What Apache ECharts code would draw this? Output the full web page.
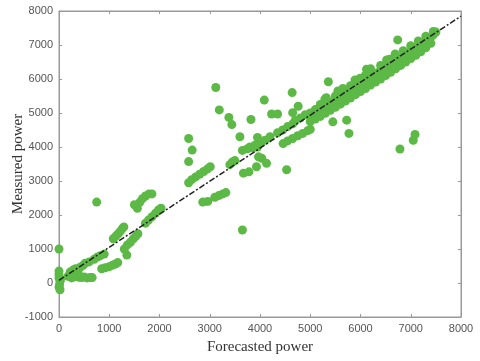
<!DOCTYPE html>
<html>
<head>
<meta charset="utf-8">
<script src="https://cdn.jsdelivr.net/npm/echarts@6/dist/echarts.min.js"></script>
<style>
  html, body { margin: 0; padding: 0; background: #fff; }
  #chart { width: 480px; height: 361px; }
</style>
</head>
<body>
<div id="chart"></div>
<script>
// forecasted vs measured power
var forecasted = [
  0, 0, 0, 0, 20, 10, 0, 20, 30,
  180, 220, 280, 330, 380, 250, 300, 400, 450, 500, 560, 620, 660, 350,
  420, 480, 520, 600, 700, 760, 820, 900,
  750,
  850, 920, 1000, 1060, 1120, 1170,
  1080, 1130, 1180, 1220, 1260, 1290,
  1300, 1360, 1420, 1480, 1530, 1570, 1350,
  1500, 1560, 1610, 1660, 1720, 1790, 1850,
  1720, 1780, 1850, 1920, 1980, 2030,
  2580, 2650, 2580,
  2580, 2640, 2720, 2800, 2880, 2950, 3010,
  2860, 2960,
  3100, 3180, 3260, 3320,
  3650,
  3120, 3190, 3380, 3440, 3820, 3600, 3950,
  3400, 3450, 3500, 3650, 3750, 3850, 3950,
  3670, 3780, 3970, 3930, 4035, 4130, 4530,
  4085, 4230, 4350, 4640, 4650, 4760, 5360,
  5450, 5725, 5770, 6785, 7050, 7085, 6740,
  5290, 5320, 5550, 5650, 5890, 5990, 6120, 6200, 6520, 6580, 6690,
  4460, 4550, 4650, 4750, 4850, 4950, 5000,
  4350, 4450, 4550, 4650,
  4700, 4800, 4900, 5000, 5100, 5200,
  3800, 3900, 4000, 4100, 4200,
  5050, 5100, 5150, 5200, 5250, 5300, 5350, 5400, 5450, 5500,
  5550, 5600, 5650, 5700, 5750, 5800, 5850, 5900, 5950, 6000,
  6050, 6100, 6150, 6200, 6250, 6300, 6350, 6400, 6450, 6500,
  6550, 6600, 6650, 6700, 6750, 6800, 6850, 6900, 6950, 7000,
  7050, 7100, 7150, 7200, 7250, 7300, 7350, 7400, 7450, 7500,
  5000, 5100, 5200, 5300, 5400, 5500, 5600, 5700, 5800, 5900,
  6000, 6100, 6200, 6300, 6400, 6500, 6600, 6700, 6800, 6900,
  7000, 7100, 7200, 7300, 7400,
  5200, 5500, 5800, 6100, 6400, 6700, 7000, 7300, 7450, 6550, 6850, 7150
];
var measured = [
  1000, 350, 250, 150, 50, -50, -120, -200, 100,
  200, 320, 380, 420, 300, 150, 180, 170, 160, 180, 150, 160, 160, 250,
  460, 520, 580, 620, 700, 760, 800, 850,
  2380,
  420, 450, 480, 520, 560, 600,
  1300, 1380, 1450, 1520, 1600, 1650,
  1000, 1120, 1200, 1300, 1380, 1450, 820,
  2300, 2200, 2380, 2480, 2560, 2620, 2620,
  1760, 1850, 1950, 2050, 2150, 2200,
  4250, 3910, 3570,
  2950, 3040, 3120, 3200, 3280, 3350, 3420,
  2380, 2400,
  2520, 2570, 2620, 2660,
  1560,
  5750, 5090, 4870, 4660, 4810, 4300, 4280,
  3480, 3560, 3600, 3900, 3950, 3970, 4000,
  3230, 3270, 3710, 3420, 3670, 3520, 3330,
  5380, 4970, 4970, 5600, 5010, 5200, 5920,
  4740, 4790, 4400, 3940, 4200, 4370, 7150,
  5410, 5450, 5650, 5720, 5970, 6020, 6290, 6300, 6560, 6580, 6735,
  4100, 4180, 4250, 4330, 4400, 4480, 4520,
  4420, 4500, 4600, 4680,
  4780, 4850, 4950, 5000, 5100, 5200,
  4000, 4050, 4100, 4200, 4300,
  4950, 4980, 5050, 5080, 5150, 5180, 5230, 5280, 5320, 5380,
  5420, 5470, 5520, 5560, 5620, 5660, 5710, 5760, 5800, 5850,
  5900, 5950, 6000, 6040, 6100, 6140, 6190, 6240, 6280, 6330,
  6380, 6420, 6480, 6520, 6570, 6620, 6660, 6720, 6760, 6820,
  6860, 6910, 6960, 7010, 7060, 7120, 7170, 7230, 7300, 7380,
  4750, 4820, 4900, 4990, 5080, 5170, 5260, 5350, 5440, 5540,
  5630, 5720, 5820, 5910, 6000, 6100, 6200, 6300, 6400, 6500,
  6600, 6700, 6800, 6920, 7050,
  5250, 5500, 5800, 6120, 6400, 6680, 6980, 7260, 7400, 6520, 6830, 7120
];
// dash-dot reference line end points
var fitX = [0, 8000];
var fitY = [80, 7850];

var points = forecasted.map(function (x, i) { return [x, measured[i]]; });
var fitLine = fitX.map(function (x, i) { return [x, fitY[i]]; });

var plain = function (v) { return String(v); };
var labelStyle = { color: '#555', fontSize: 11, fontFamily: 'Liberation Sans, Arial, sans-serif', formatter: plain };
var nameStyle = { color: '#333', fontSize: 15, fontFamily: 'Liberation Serif, Times New Roman, serif' };
var axisLine = { show: true, onZero: false, lineStyle: { color: '#999', width: 1 } };
var tick = { show: true, inside: true, length: 3, lineStyle: { color: '#999' } };

var chart = echarts.init(document.getElementById('chart'));
chart.setOption({
  animation: false,
  grid: {
    left: 59, right: 19, top: 11, bottom: 44, containLabel: false, outerBoundsMode: 'none',
    show: true, borderColor: '#999', borderWidth: 1, backgroundColor: 'transparent'
  },
  xAxis: [
    {
      type: 'value', min: 0, max: 8000, interval: 1000,
      name: 'Forecasted power', nameLocation: 'middle', nameGap: 23, nameMoveOverlap: false,
      nameTextStyle: nameStyle,
      axisLine: axisLine, axisTick: tick,
      axisLabel: Object.assign({ margin: 6 }, labelStyle),
      splitLine: { show: false }
    },
    {
      type: 'value', min: 0, max: 8000, interval: 1000, position: 'top',
      axisLine: axisLine, axisTick: tick,
      axisLabel: { show: false },
      splitLine: { show: false }
    }
  ],
  yAxis: [
    {
      type: 'value', min: -1000, max: 8000, interval: 1000,
      name: 'Measured power', nameLocation: 'middle', nameGap: 33, nameMoveOverlap: false,
      nameTextStyle: nameStyle,
      axisLine: axisLine, axisTick: tick,
      axisLabel: Object.assign({ margin: 6 }, labelStyle),
      splitLine: { show: false }
    },
    {
      type: 'value', min: -1000, max: 8000, interval: 1000, position: 'right',
      axisLine: axisLine, axisTick: tick,
      axisLabel: { show: false },
      splitLine: { show: false }
    }
  ],
  series: [
    {
      type: 'scatter',
      data: points,
      symbolSize: 9,
      itemStyle: { color: '#5cb946', opacity: 1 }
    },
    {
      type: 'line',
      data: fitLine,
      symbol: 'none',
      z: 5,
      lineStyle: { color: '#222', width: 1.5, type: [6, 2, 2, 2] }
    }
  ]
});
</script>
</body>
</html>
